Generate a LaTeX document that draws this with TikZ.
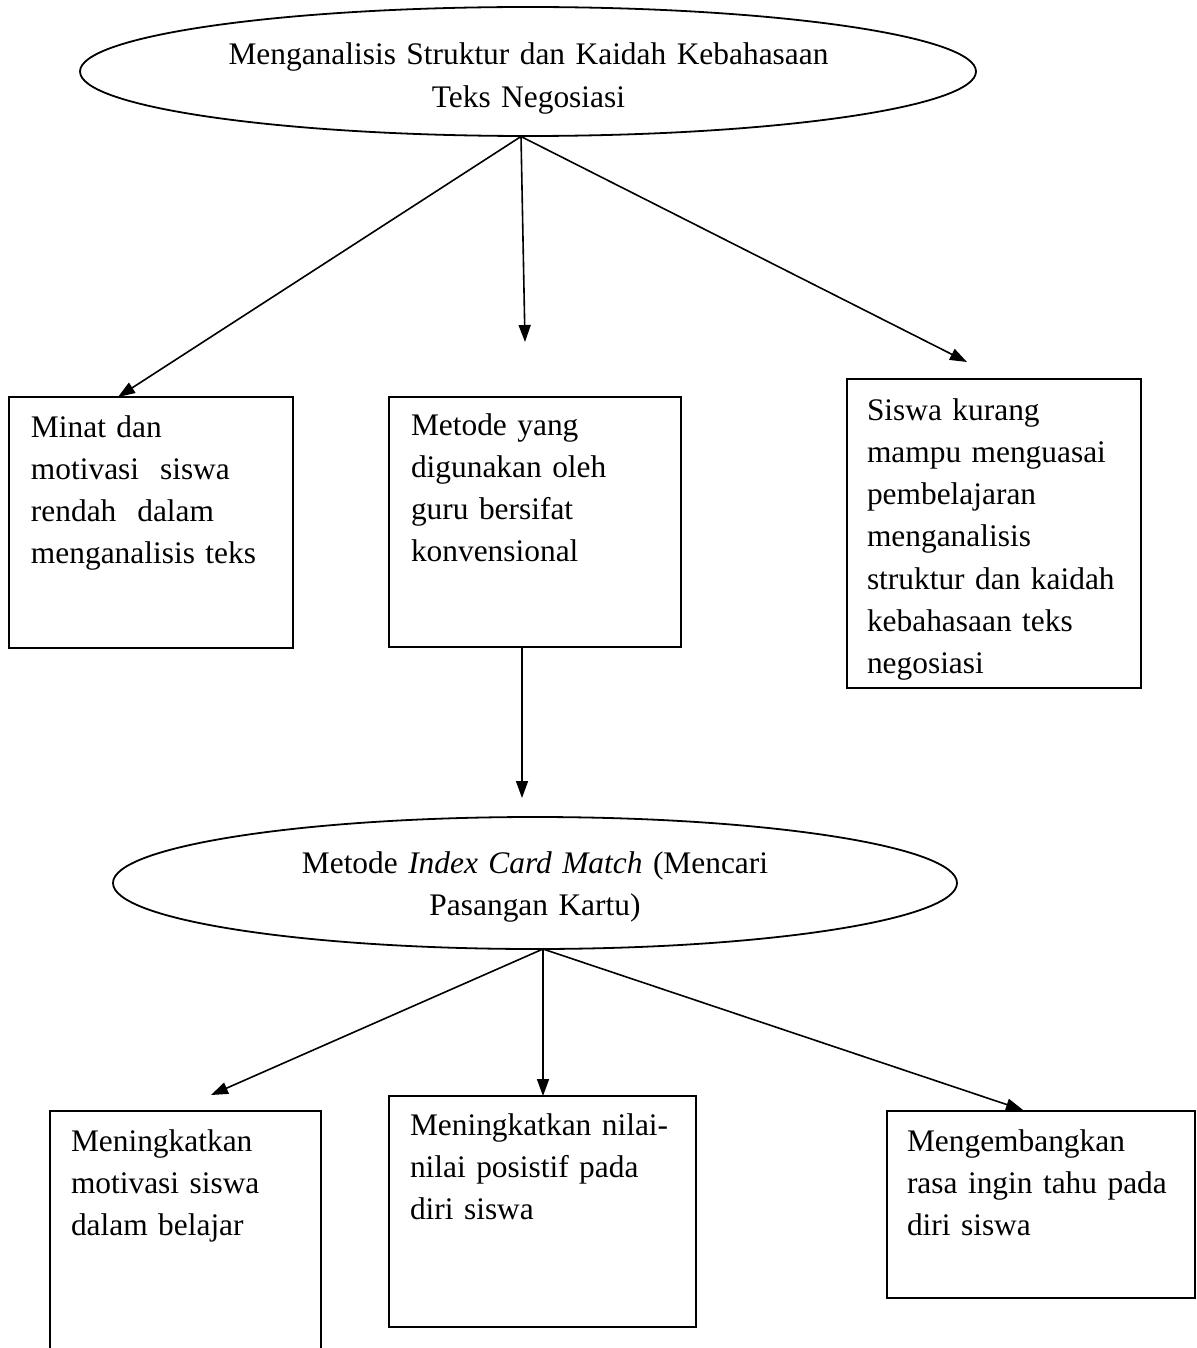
\documentclass[tikz,border=0pt]{standalone}
\usepackage{fontspec}
\setmainfont{Liberation Serif}
\usetikzlibrary{shapes.geometric,arrows.meta}
\begin{document}
\begin{tikzpicture}[x=0.5pt,y=-0.5pt,
  every node/.style={inner sep=0pt, outer sep=0pt},
  oval/.style={draw, ellipse, line width=0.9pt},
  boxnode/.style={draw, rectangle, line width=0.9pt},
  txt/.style={font=\fontsize{15.7pt}{21.15pt}\selectfont, text width=170pt, align=left, anchor=base west},
  ctxt/.style={font=\fontsize{15.7pt}{21.15pt}\selectfont, text width=400pt, align=center, anchor=base},
  arr/.style={line width=0.8pt, -{Triangle[length=8.5pt,width=6pt]}},
  ln/.style={line width=0.8pt}]
\useasboundingbox[fill=white] (0,0) rectangle (1197,1348);

% top ellipse
\node[oval, minimum width=448pt, minimum height=64.5pt] (e1) at (528,71.5) {};
\node[ctxt] (e1t) at (528.5,65) {Menganalisis Struktur dan Kaidah Kebahasaan\\Teks Negosiasi};

% first row boxes
\node[boxnode, minimum width=142pt, minimum height=125.5pt] (b1) at (151,522.5) {};
\node[txt] (b1t) at (31,437) {Minat dan\\motivasi\ \ siswa\\rendah\ \ dalam\\menganalisis teks};

\node[boxnode, minimum width=146pt, minimum height=125pt] (b2) at (535,522) {};
\node[txt] (b2t) at (411,435) {Metode yang\\digunakan oleh\\guru bersifat\\konvensional};

\node[boxnode, minimum width=147pt, minimum height=154.5pt] (b3) at (994,533.5) {};
\node[txt] (b3t) at (867,420) {Siswa kurang\\mampu menguasai\\pembelajaran\\menganalisis\\struktur dan kaidah\\kebahasaan teks\\negosiasi};

% second ellipse
\node[oval, minimum width=422pt, minimum height=66pt] (e2) at (535,883) {};
\node[ctxt] (e2t) at (535,873) {Metode \textit{Index Card Match} (Mencari\\Pasangan Kartu)};

% bottom boxes
\node[boxnode, minimum width=135.5pt, minimum height=124.5pt] (b4) at (185.5,1235.5) {};
\node[txt] (b4t) at (71,1151) {Meningkatkan\\motivasi siswa\\dalam belajar};

\node[boxnode, minimum width=153.5pt, minimum height=115.5pt] (b5) at (542.5,1211.5) {};
\node[txt] (b5t) at (410,1135) {Meningkatkan nilai-\\nilai posistif pada\\diri siswa};

\node[boxnode, minimum width=154pt, minimum height=93.5pt] (b6) at (1041,1204.5) {};
\node[txt] (b6t) at (907,1151) {Mengembangkan\\rasa ingin tahu pada\\diri siswa};

% connector end points
\coordinate (o1) at (521,136.5);
\coordinate (t1) at (118,397);
\coordinate (t2) at (525,342);
\coordinate (t3) at (967,362);
\coordinate (b2s) at (522,647);
\coordinate (t4) at (522,798);
\coordinate (o2) at (543,949);
\coordinate (t5) at (211,1095);
\coordinate (t6) at (543,1096);
\coordinate (t7) at (1023,1110);

\draw[arr] (o1) -- (t1);
\draw[arr] (o1) -- (t2);
\draw[arr] (o1) -- (t3);
\draw[arr] (b2s) -- (t4);
\draw[arr] (o2) -- (t5);
\draw[arr] (o2) -- (t6);
\draw[arr] (o2) -- (t7);
\end{tikzpicture}
\end{document}
